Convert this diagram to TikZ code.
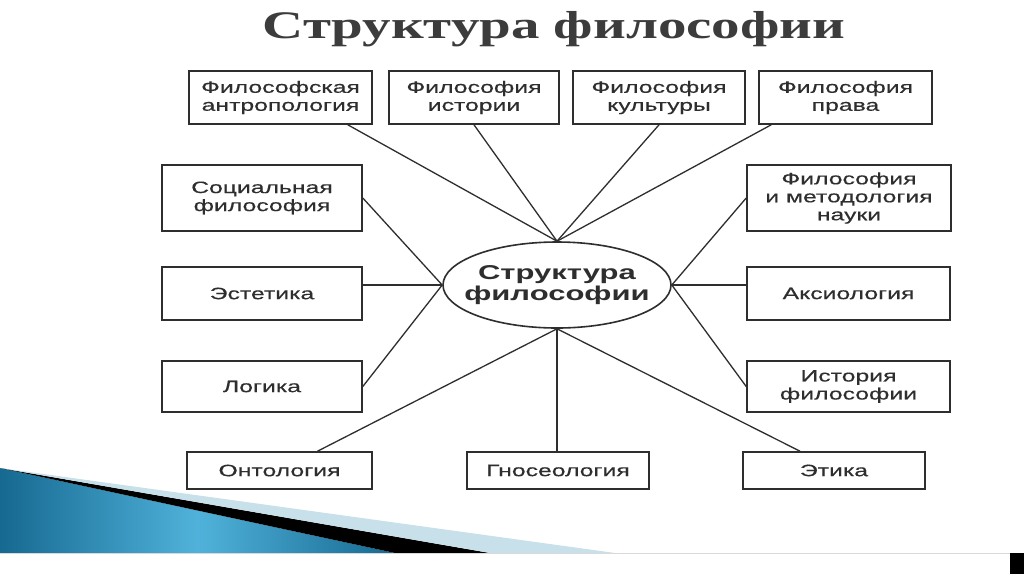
\documentclass[tikz,border=0pt]{standalone}
\usepackage{fontspec}
\usetikzlibrary{shapes.geometric,calc}
\newfontfamily\boxfont[FakeStretch=1.5,FakeBold=0.35]{Liberation Sans}
\newfontfamily\centrefont[FakeStretch=1.55]{Liberation Sans}
\newfontfamily\titlefont[FakeStretch=1.46]{Liberation Serif}
\definecolor{ink}{HTML}{2E2E2E}
\definecolor{titlegray}{HTML}{3C3C3C}
\definecolor{darkblue}{RGB}{22,105,145}
\definecolor{lightblueA}{RGB}{80,178,218}
\definecolor{paleblue}{RGB}{200,224,234}
\tikzset{
  box/.style={draw=ink, line width=1.6pt, inner sep=0pt, align=center,
    font=\boxfont\fontsize{16.5}{18}\selectfont, text=ink},
  conn/.style={draw=ink, line width=1.3pt},
}
\begin{document}
\begin{tikzpicture}[x=1pt,y=-1pt]
\useasboundingbox[fill=white] (0,0) rectangle (1024,574);
% decorative wedge
\shade[left color=darkblue, right color=darkblue, middle color=lightblueA]
  (0,468) -- (395,553) -- (0,553) -- cycle;
\fill[black] (0,468) -- (490,553) -- (395,553) -- cycle;
\fill[paleblue] (0,468) -- (615,553) -- (490,553) -- cycle;
\draw[gray!30, line width=0.8pt] (0,553.5) -- (1010,553.5);
\fill[black] (1010,553) rectangle (1024,574);
% title
\node[anchor=base, text=titlegray, font=\titlefont\bfseries\fontsize{39}{42}\selectfont, inner sep=0pt]
  (title) at (554,38) {Структура философии};
% centre
\node[draw=ink, line width=1.6pt, ellipse, minimum width=228pt, minimum height=86pt, inner sep=0pt]
  (c) at (557,285) {};
\node[align=center, text=ink, inner sep=0pt, font=\centrefont\bfseries\fontsize{20}{21.5}\selectfont]
  (ct) at (c.center) {Структура\\философии};
% boxes
\node[box, minimum width=183pt, minimum height=53pt] (fa) at (280.5,97.5) {Философская\\антропология};
\node[box, minimum width=170pt, minimum height=53pt] (fi) at (474,97.5) {Философия\\истории};
\node[box, minimum width=172pt, minimum height=53pt] (fk) at (659,97.5) {Философия\\культуры};
\node[box, minimum width=173pt, minimum height=53pt] (fp) at (845.5,97.5) {Философия\\права};
\node[box, minimum width=200pt, minimum height=66pt] (sf) at (262,198) {Социальная\\философия};
\node[box, minimum width=200pt, minimum height=53pt] (es) at (262,293.5) {Эстетика};
\node[box, minimum width=200pt, minimum height=51pt] (lo) at (262,386.5) {Логика};
\node[box, minimum width=204pt, minimum height=66pt] (mn) at (849,198) {Философия\\и методология\\науки};
\node[box, minimum width=203pt, minimum height=53pt] (ak) at (848.5,293.5) {Аксиология};
\node[box, minimum width=203pt, minimum height=51pt] (hf) at (848.5,386.5) {История\\философии};
\node[box, minimum width=185pt, minimum height=37pt] (on) at (279.5,470.5) {Онтология};
\node[box, minimum width=182pt, minimum height=37pt] (gn) at (558,470.5) {Гносеология};
\node[box, minimum width=182pt, minimum height=37pt] (et) at (834,470.5) {Этика};
% connectors
\draw[conn] ([xshift=-25pt]fa.south east) -- (c.north);
\draw[conn] (fi.south) -- (c.north);
\draw[conn] (fk.south) -- (c.north);
\draw[conn] ([xshift=13pt]fp.south west) -- (c.north);
\draw[conn] (sf.east) -- (c.west);
\draw[conn] (es.east |- c.west) -- (c.west);
\draw[conn] (lo.east) -- (c.west);
\draw[conn] (mn.west) -- (c.east);
\draw[conn] (ak.west |- c.east) -- (c.east);
\draw[conn] (hf.west) -- (c.east);
\draw[conn] ([xshift=38pt]on.north) -- (c.south);
\draw[conn] (gn.north -| c.south) -- (c.south);
\draw[conn] ([xshift=-34pt]et.north) -- (c.south);
\end{tikzpicture}
\end{document}
